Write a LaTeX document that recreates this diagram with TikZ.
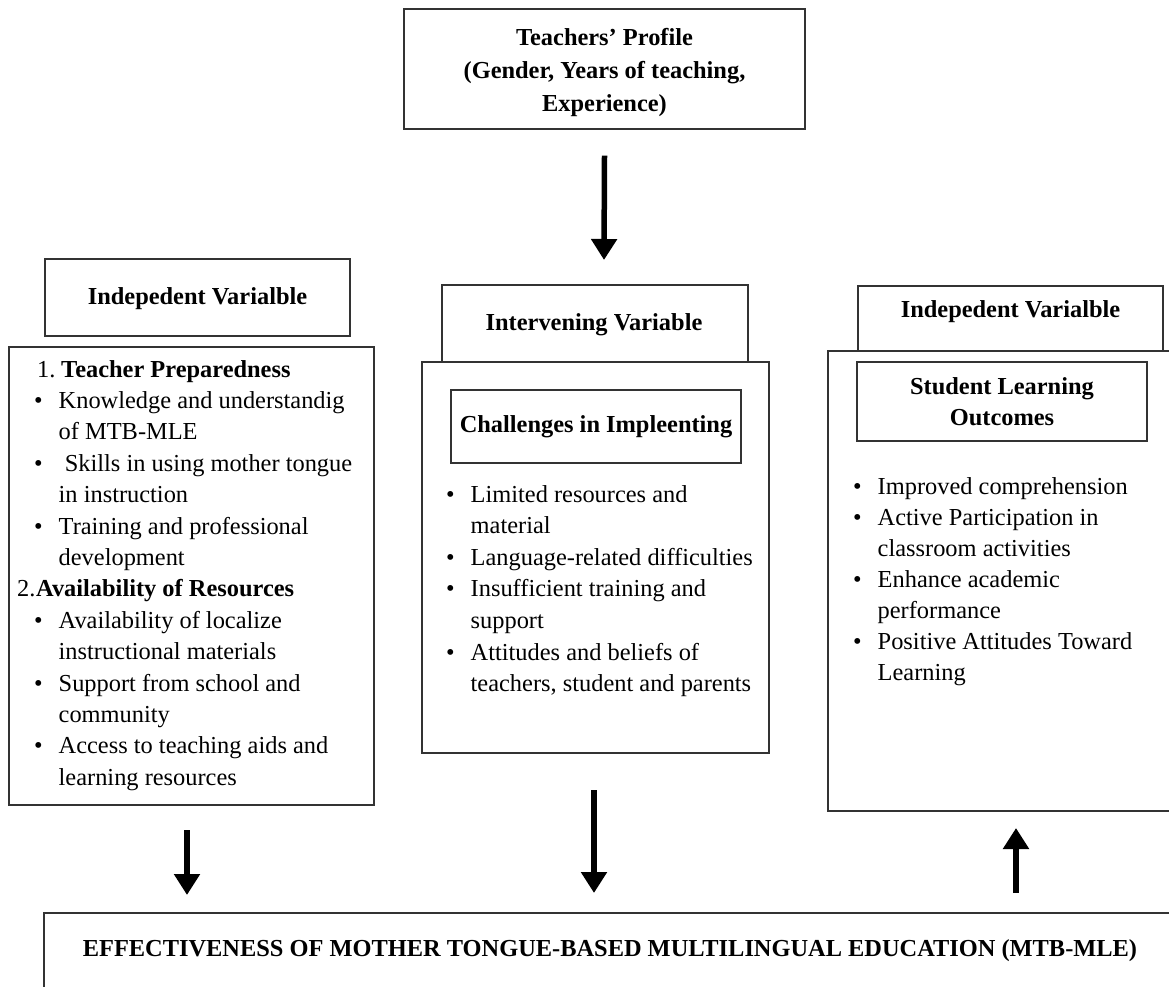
\documentclass[tikz,border=0pt]{standalone}
\usepackage{fontspec}
\setmainfont{Liberation Serif}
\usetikzlibrary{arrows.meta,calc}
\newcommand\fsz{\fontsize{24.4}{31.5}\selectfont}
\newcommand\bul{\makebox[24.5pt][l]{\textbullet}}
\begin{document}
\begin{tikzpicture}[x=1pt,y=-1pt,
  box/.style={draw=black!80, line width=1.4pt, fill=white, inner sep=0pt, font=\fsz\bfseries, align=center},
  line/.style={anchor=base west, inner sep=0pt, font=\fsz},
  arr/.style={line width=5.5pt, -{Triangle[width=25pt,length=21pt]}}]
\useasboundingbox (0,0) rectangle (1169,987);
\clip (0,0) rectangle (1169,987);
\fill[white] (0,0) rectangle (1169,987);

% top box
\node[box, minimum width=401pt, minimum height=120pt] (top) at (604.5,69) {};
\node[inner sep=0pt, font=\fsz\bfseries, align=center] (toptxt) at (604.5,72.5)
  {Teachers’ Profile\\[1.5pt](Gender, Years of teaching,\\[1.5pt]Experience)};

% left column
\node[box, minimum width=305pt, minimum height=77pt] (lhead) at (197.5,297.5) {};
\node[inner sep=0pt, font=\fsz\bfseries] (lheadtxt) at (197.5,299) {Indepedent Varialble};
\node[box, minimum width=365pt, minimum height=458pt] (lmain) at (191.5,576) {};

% middle column
\node[box, minimum width=306pt, minimum height=77pt] (mhead) at (595,323.5) {};
\node[inner sep=0pt, font=\fsz\bfseries] (mheadtxt) at (594,325) {Intervening Variable};
\node[box, minimum width=347pt, minimum height=391pt] (mmain) at (595.5,557.5) {};
\node[box, minimum width=290pt, minimum height=73pt] (minner) at (596,426.5) {Challenges in Impleenting};

% right column
\node[box, minimum width=305pt, minimum height=65pt] (rhead) at (1010.5,318.5) {};
\node[inner sep=0pt, font=\fsz\bfseries] (rheadtxt) at (1010.5,312) {Indepedent Varialble};
\node[box, minimum width=352pt, minimum height=460pt] (rmain) at (1004,581) {};
\node[box, minimum width=290pt, minimum height=79pt] (rinner) at (1002,401.5)
  {Student Learning\\[-0.5pt]Outcomes};

% bottom box
\node[box, minimum width=1140pt, minimum height=100pt] (bottom) at (614,963) {};
\node[anchor=base, inner sep=0pt, font=\fsz\bfseries] (btxt) at (610,956)
  {EFFECTIVENESS OF MOTHER TONGUE-BASED MULTILINGUAL EDUCATION (MTB-MLE)};

% left list
\node[line] (l1)  at (37,377)   {\makebox[24pt][l]{1.}\textbf{Teacher Preparedness}};
\node[line] (l2)  at (34,408.4) {\bul Knowledge and understandig};
\node[line] (l3)  at (58.5,439.8) {of MTB-MLE};
\node[line] (l4)  at (34,471.2) {\bul\ Skills in using mother tongue};
\node[line] (l5)  at (58.5,502.6) {in instruction};
\node[line] (l6)  at (34,534)   {\bul Training and professional};
\node[line] (l7)  at (58.5,565.4) {development};
\node[line] (l8)  at (17,596.8) {\makebox[19pt][l]{2.}\textbf{Availability of Resources}};
\node[line] (l9)  at (34,628.2) {\bul Availability of localize};
\node[line] (l10) at (58.5,659.6) {instructional materials};
\node[line] (l11) at (34,691)   {\bul Support from school and};
\node[line] (l12) at (58.5,722.4) {community};
\node[line] (l13) at (34,753.8) {\bul Access to teaching aids and};
\node[line] (l14) at (58.5,785.2) {learning resources};

% middle list
\node[line] (m1) at (446,502)   {\bul Limited resources and};
\node[line] (m2) at (470.5,533.6) {material};
\node[line] (m3) at (446,565.2) {\bul Language-related difficulties};
\node[line] (m4) at (446,596.8) {\bul Insufficient training and};
\node[line] (m5) at (470.5,628.4) {support};
\node[line] (m6) at (446,660)   {\bul Attitudes and beliefs of};
\node[line] (m7) at (470.5,691.6) {teachers, student and parents};

% right list
\node[line] (r1) at (853,494) {\bul Improved comprehension};
\node[line] (r2) at (853,525) {\bul Active Participation in};
\node[line] (r3) at (877.5,556) {classroom activities};
\node[line] (r4) at (853,587) {\bul Enhance academic};
\node[line] (r5) at (877.5,618) {performance};
\node[line] (r6) at (853,649) {\bul Positive Attitudes Toward};
\node[line] (r7) at (877.5,680) {Learning};

% arrows
\coordinate (a1s) at ($(top.south)+(0,26)$);
\coordinate (a1e) at (604,260);
\coordinate (a2s) at (187,830);
\coordinate (a2e) at (187,895);
\coordinate (a3s) at (594,790);
\coordinate (a3e) at (594,893);
\coordinate (a4s) at (1016,893);
\coordinate (a4e) at (1016,828);
\draw[arr] (a1s) -- (a1e);
\draw[arr] (a2s) -- (a2e);
\draw[arr] (a3s) -- (a3e);
\draw[arr] (a4s) -- (a4e);
\end{tikzpicture}
\end{document}
